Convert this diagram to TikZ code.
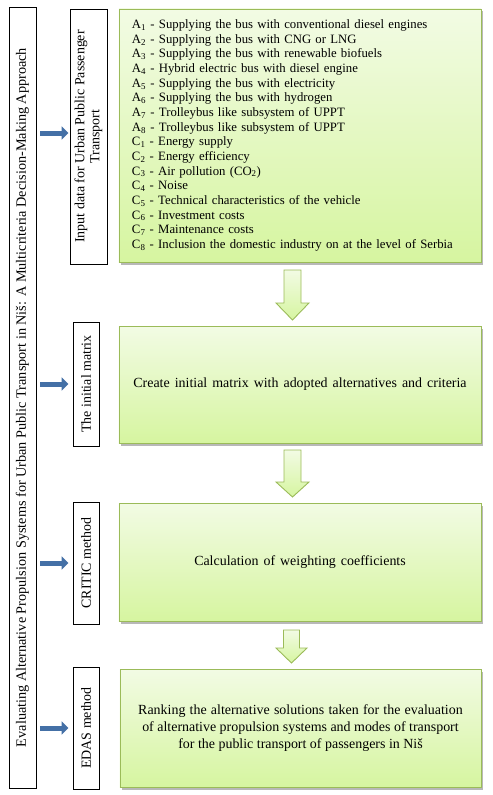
\documentclass[tikz,border=0pt]{standalone}
\usepackage{fontspec}
\setmainfont{Liberation Serif}
\usetikzlibrary{shadows,calc,arrows.meta}
\definecolor{gborder}{HTML}{9BBB59}
\definecolor{gtop}{HTML}{F2FBE4}
\definecolor{gbot}{HTML}{D6F5A0}
\definecolor{barrowc}{HTML}{4470A6}
\newcommand{\garrow}[6]{% cx, top, base, tip, halfshaft, halfhead
  \draw[garr] (#1-#5,#2) -- (#1+#5,#2) -- (#1+#5,#3) -- (#1+#6,#3) -- (#1,#4) -- (#1-#6,#3) -- (#1-#5,#3) -- cycle;}
\begin{document}
\begin{tikzpicture}[x=1bp,y=-1bp,
  gbox/.style={draw=gborder, line width=0.9bp, top color=gtop, bottom color=gbot,
    minimum width=362bp, inner sep=0pt, align=center,
    drop shadow={shadow xshift=2bp, shadow yshift=-2.5bp, fill=black, opacity=0.28},
    font=\fontsize{14}{16.8}\selectfont},
  lbox/.style={draw=black, line width=0.8bp, fill=white, rotate=90, inner sep=0pt,
    align=center, font=\fontsize{14}{15}\selectfont},
  barr/.style={draw=barrowc, line width=5bp, -{Triangle[width=13bp,length=6.7bp]}},
  garr/.style={draw=gborder, line width=0.9bp, top color=gtop, bottom color=gbot}]
\useasboundingbox (0,0) rectangle (493,795);

% title box
\node[lbox, minimum width=781bp, minimum height=27bp, font=\fontsize{14.3}{16}\selectfont] (title) at (22.5,397.5)
  {Evaluating Alternative Propulsion Systems for Urban Public Transport in Niš: A Multicriteria Decision-Making Approach};

% label boxes
\node[lbox, minimum width=255bp, minimum height=37bp] (L1) at (88.5,136.5)
  {Input data for Urban Public Passenger\\Transport};
\node[lbox, minimum width=124bp, minimum height=26bp] (L2) at (86,384) {The initial matrix};
\node[lbox, minimum width=122bp, minimum height=26bp] (L3) at (86,563) {CRITIC method};
\node[lbox, minimum width=122bp, minimum height=26bp] (L4) at (86,728) {EDAS method};

% green boxes
\node[gbox, minimum height=253bp, text width=336bp, align=left,
  font=\fontsize{12.8}{14.7}\selectfont] (G1) at (300,135.5) {%
A\textsubscript{1} - Supplying the bus with conventional diesel engines\\
A\textsubscript{2} - Supplying the bus with CNG or LNG\\
A\textsubscript{3} - Supplying the bus with renewable biofuels\\
A\textsubscript{4} - Hybrid electric bus with diesel engine\\
A\textsubscript{5} - Supplying the bus with electricity\\
A\textsubscript{6} - Supplying the bus with hydrogen\\
A\textsubscript{7} - Trolleybus like subsystem of UPPT\\
A\textsubscript{8} - Trolleybus like subsystem of UPPT\\
C\textsubscript{1} - Energy supply\\
C\textsubscript{2} - Energy efficiency\\
C\textsubscript{3} - Air pollution (CO\textsubscript{2})\\
C\textsubscript{4} - Noise\\
C\textsubscript{5} - Technical characteristics of the vehicle\\
C\textsubscript{6} - Investment costs\\
C\textsubscript{7} - Maintenance costs\\
C\textsubscript{8} - Inclusion the domestic industry on at the level of Serbia};
\node[gbox, minimum height=117bp] (G2) at (300,384.5)
  {\spaceskip=5bp plus 1bp Create initial matrix with adopted alternatives and criteria};
\node[gbox, minimum height=118bp] (G3) at (300,562)
  {\spaceskip=5bp plus 1bp Calculation of weighting coefficients};
\node[gbox, minimum height=118bp, minimum width=361bp] (G4) at (300.5,728)
  {\spaceskip=4.2bp plus 1bp Ranking the alternative solutions taken for the evaluation\\
   of alternative propulsion systems and modes of transport\\
   for the public transport of passengers in Niš};

% blue arrows
\draw[barr, shorten <=4bp, shorten >=1.3bp] ($(title.south |- L1.north)+(0,-3.5)$) -- ($(L1.north)+(0,-3.5)$);
\draw[barr, shorten <=4bp, shorten >=4.3bp] (title.south |- L2.north) -- (L2.north);
\draw[barr, shorten <=4bp, shorten >=4.3bp] (title.south |- L3.north) -- (L3.north);
\draw[barr, shorten <=4bp, shorten >=4.3bp] (title.south |- L4.north) -- (L4.north);

% green block arrows
\garrow{292.5}{270}{303}{320}{8.5}{16.5}
\garrow{292.5}{450}{482}{497}{8.5}{16.5}
\garrow{291.5}{630}{648}{663}{8}{15.5}
\end{tikzpicture}
\end{document}
